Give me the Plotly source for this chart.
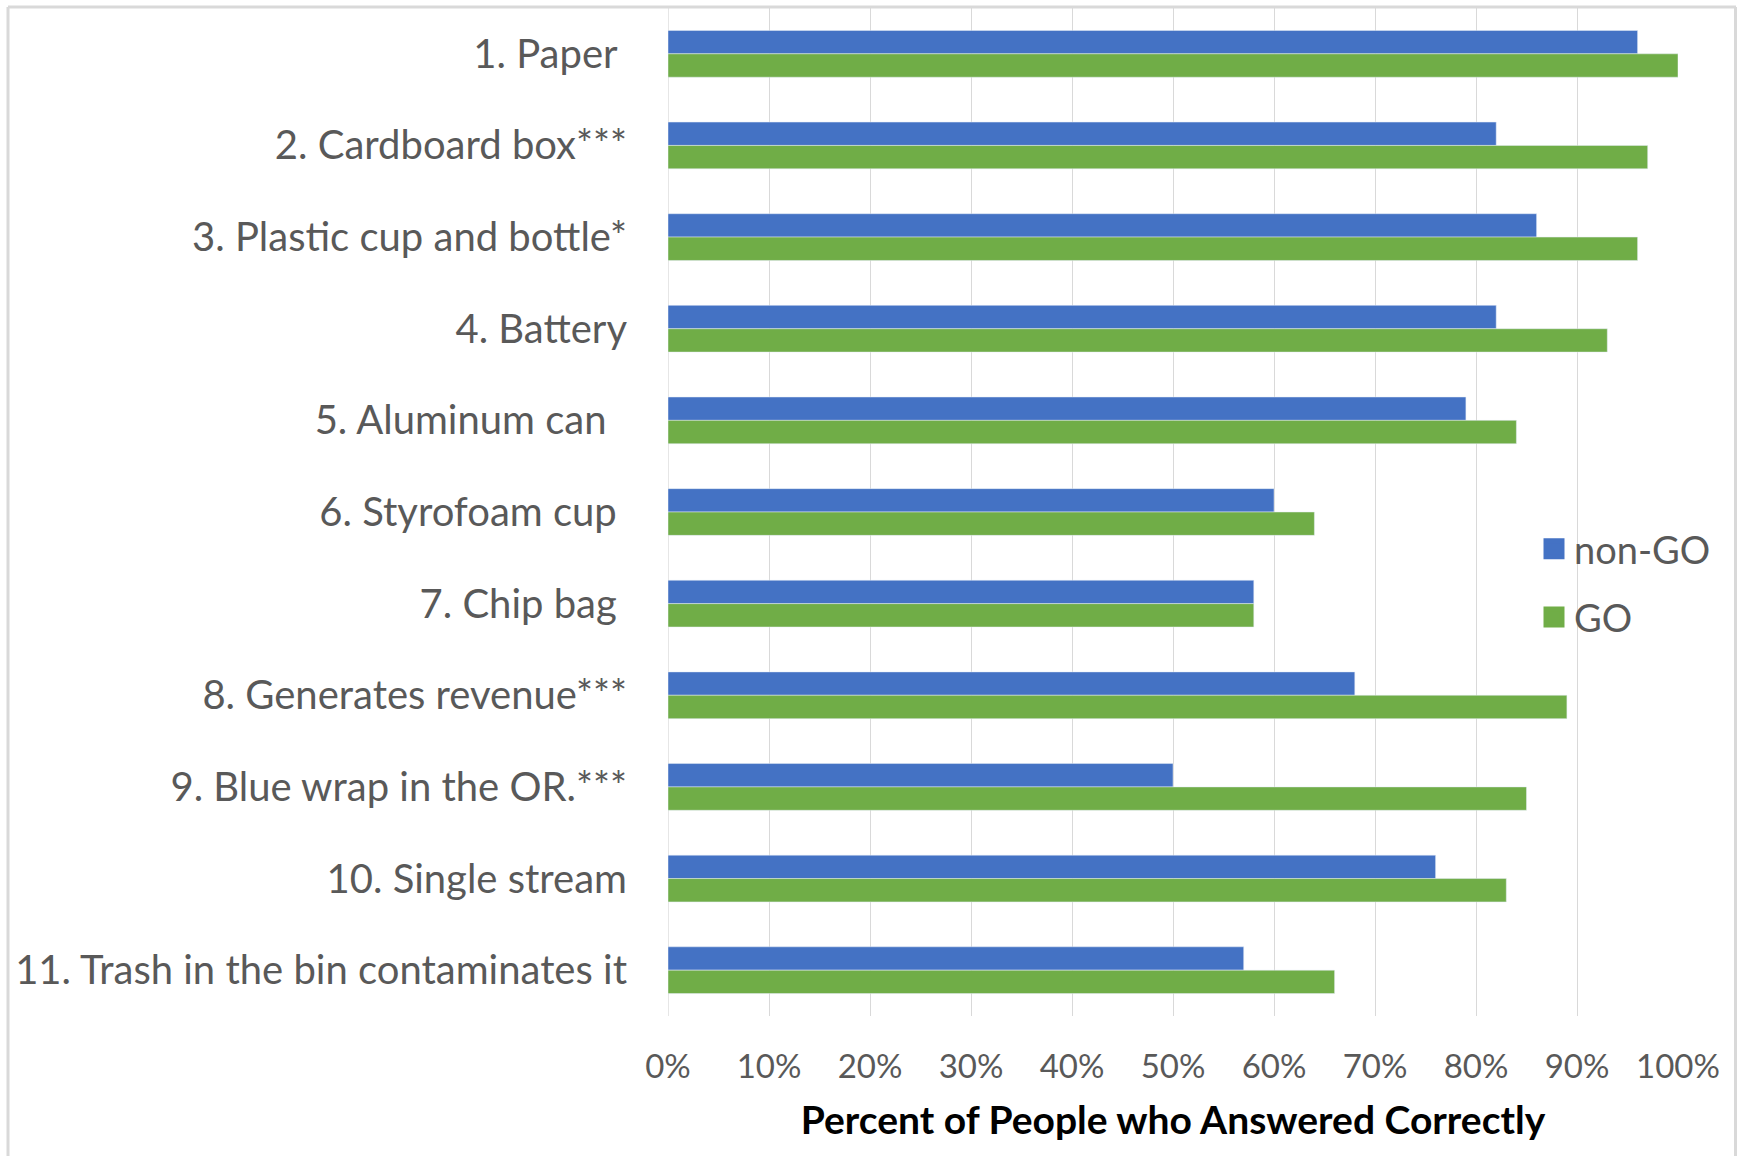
import plotly.graph_objects as go

categories = [
    "1. Paper\u00a0",
    "2. Cardboard box***",
    "3. Plastic cup and bottle*",
    "4. Battery",
    "5. Aluminum can\u00a0\u00a0",
    "6. Styrofoam cup\u00a0",
    "7. Chip bag\u00a0",
    "8. Generates revenue***",
    "9. Blue wrap in the OR.***",
    "10. Single stream",
    "11. Trash in the bin contaminates it",
]
non_go = [96, 82, 86, 82, 79, 60, 58, 68, 50, 76, 57]
go_vals = [100, 97, 96, 93, 84, 64, 58, 89, 85, 83, 66]
tick_vals = [0, 10, 20, 30, 40, 50, 60, 70, 80, 90, 100]
tick_text = ["0%", "10%", "20%", "30%", "40%", "50%", "60%", "70%", "80%", "90%", "100%"]

BLUE = "#4472C4"
GREEN = "#70AD47"
FONT = "Lato"

fig = go.Figure()
fig.add_trace(go.Bar(y=categories, x=non_go, name="non-GO", orientation="h",
                     marker=dict(color=BLUE), showlegend=False))
fig.add_trace(go.Bar(y=categories, x=go_vals, name="GO", orientation="h",
                     marker=dict(color=GREEN), showlegend=False))
# legend proxies (larger square swatches)
fig.add_trace(go.Scatter(x=[None], y=[None], mode="markers", name="non-GO",
                         marker=dict(symbol="square", size=22, color=BLUE,
                                     line=dict(color=BLUE, width=5)),
                         legendgroup="a"))
fig.add_trace(go.Scatter(x=[None], y=[None], mode="markers", name="GO",
                         marker=dict(symbol="square", size=22, color=GREEN,
                                     line=dict(color=GREEN, width=5)),
                         legendgroup="b"))

W, H = 1737, 1156
L, R, T, B = 668, 1678, 8, 1016

fig.update_layout(
    width=W, height=H,
    margin=dict(l=L, r=W - R, t=T, b=H - B, pad=0),
    paper_bgcolor="white", plot_bgcolor="white",
    barmode="group", bargap=0.49, bargroupgap=0,
    font=dict(family=FONT, color="#595959", size=32),
    legend=dict(x=(1534 - L) / (R - L), y=(B - 583) / (B - T),
                xanchor="left", yanchor="middle",
                font=dict(size=38, color="#595959", family=FONT),
                bgcolor="rgba(0,0,0,0)", traceorder="grouped",
                tracegroupgap=16, itemwidth=30),
    xaxis=dict(range=[0, 100], tickvals=tick_vals, ticktext=tick_text,
               showgrid=True, gridcolor="#D9D9D9", gridwidth=1.3,
               zeroline=False, showline=False, ticks="",
               tickfont=dict(size=33, color="#595959", family=FONT),
               ticklabelstandoff=28,
               title=dict(text="<b>Percent of People who Answered Correctly</b>",
                          font=dict(size=39, color="black", family=FONT),
                          standoff=22)),
    yaxis=dict(autorange="reversed", showgrid=False, zeroline=False,
               showline=False, ticks="",
               tickfont=dict(size=40, color="#595959", family=FONT),
               ticklabelstandoff=40),
    shapes=[dict(type="line", xref="paper", yref="paper",
                 x0=(8 - L) / (R - L), x1=(1736 - L) / (R - L),
                 y0=(B - 7) / (B - T), y1=(B - 7) / (B - T),
                 line=dict(color="#D9D9D9", width=3)),
            dict(type="line", xref="paper", yref="paper",
                 x0=(8 - L) / (R - L), x1=(8 - L) / (R - L),
                 y0=(B - 7) / (B - T), y1=(B - 1160) / (B - T),
                 line=dict(color="#D9D9D9", width=3)),
            dict(type="line", xref="paper", yref="paper",
                 x0=(1735.5 - L) / (R - L), x1=(1735.5 - L) / (R - L),
                 y0=(B - 7) / (B - T), y1=(B - 1160) / (B - T),
                 line=dict(color="#D9D9D9", width=3)),
            dict(type="line", xref="x", yref="paper", x0=0, x1=0, y0=0, y1=1,
                 line=dict(color="#D9D9D9", width=1.3), layer="below")],
)

fig.write_html("out.html")
